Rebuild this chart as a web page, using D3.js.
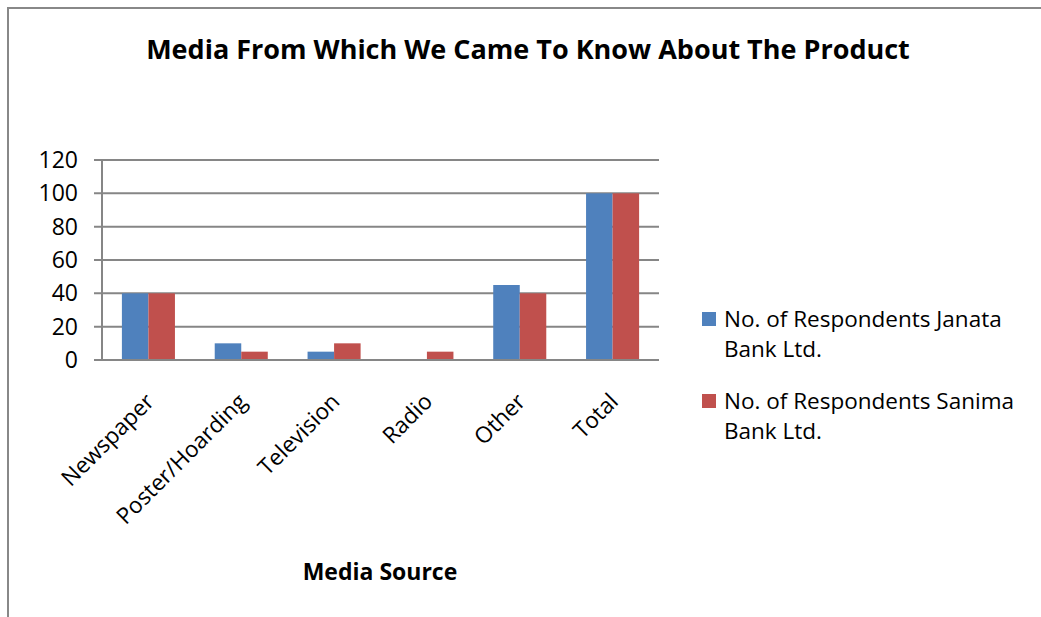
<!DOCTYPE html>
<html><head><meta charset="utf-8">
<script src="https://cdn.jsdelivr.net/npm/d3@7"></script>
<style>body{margin:0;background:#fff}svg{display:block}text{font-family:"Open Sans", Lato, sans-serif}</style>
</head><body>
<svg id="c" width="1041" height="617"></svg>
<script>
const categories = ["Newspaper","Poster/Hoarding","Television","Radio","Other","Total"];
const seriesNames = ["No. of Respondents Janata Bank Ltd.","No. of Respondents Sanima Bank Ltd."];
const legendLines = [["No. of Respondents Janata","Bank Ltd."],["No. of Respondents Sanima","Bank Ltd."]];
const janata = [40,10,5,0,45,100];
const sanima = [40,5,10,5,40,100];
const yTicks = [0,20,40,60,80,100,120];
const colors = ["#4F81BD","#C0504D"];
const title = "Media From Which We Came To Know About The Product";
const xTitle = "Media Source";

const svg = d3.select("#c");
svg.append("rect").attr("x",8).attr("y",8).attr("width",1100).attr("height",700)
  .attr("fill","#fff").attr("stroke","#888").attr("stroke-width",2);

const L=102,R=659,T=160,B=360;
const x = d3.scaleBand().domain(categories).range([L,R]);
const y = d3.scaleLinear().domain([0,120]).range([B,T]);
const series=[janata,sanima];
const bw = x.bandwidth()/3.5;

// gridlines
svg.append("g").selectAll("line").data(yTicks).join("line")
  .attr("x1",94).attr("x2",R).attr("y1",d=>y(d)).attr("y2",d=>y(d))
  .attr("stroke","#868686").attr("stroke-width",2);

// bars
series.forEach((s,si)=>{
  svg.append("g").selectAll("rect").data(categories).join("rect")
    .attr("x",(c)=>x(c)+(x.bandwidth()-2*bw)/2+si*bw)
    .attr("y",(c,i)=>y(s[i])).attr("width",bw)
    .attr("height",(c,i)=>B-y(s[i])).attr("fill",colors[si]);
});

// axes lines
svg.append("line").attr("x1",L).attr("x2",L).attr("y1",T).attr("y2",B).attr("stroke","#868686").attr("stroke-width",2);
svg.append("line").attr("x1",94).attr("x2",R).attr("y1",B).attr("y2",B).attr("stroke","#868686").attr("stroke-width",2);

// y labels
svg.append("g").selectAll("text").data(yTicks).join("text")
  .attr("x",78).attr("y",d=>y(d)+8).attr("text-anchor","end")
  .attr("font-size",23).attr("fill","#000").text(d=>d);

// x labels
svg.append("g").selectAll("text").data(categories).join("text")
  .attr("text-anchor","end").attr("font-size",22.5).attr("fill","#000")
  .attr("transform",c=>`translate(${x(c)+x.bandwidth()/2+7},${B+43}) rotate(-45)`)
  .text(c=>c);

// title
svg.append("text").attr("x",528).attr("y",59).attr("text-anchor","middle")
  .attr("font-size",27).attr("font-weight","bold").text(title);
svg.append("text").attr("x",380).attr("y",580).attr("text-anchor","middle")
  .attr("font-size",23).attr("font-weight","bold").text(xTitle);

// legend
legendLines.forEach((ls,i)=>{
  const gy=312+i*82;
  svg.append("rect").attr("x",702).attr("y",gy).attr("width",14).attr("height",14).attr("fill",colors[i]);
  ls.forEach((t,j)=>svg.append("text").attr("x",724).attr("y",gy+15+j*30).attr("font-size",22.5).text(t));
});
</script>
</body></html>
